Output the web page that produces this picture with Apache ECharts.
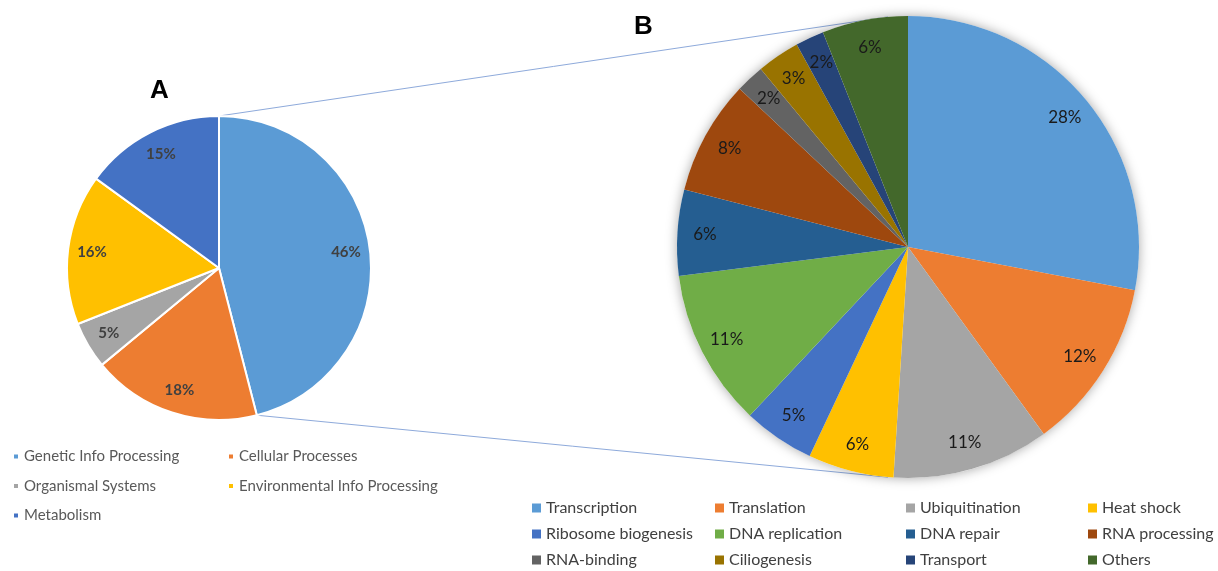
<!DOCTYPE html>
<html>
<head>
<meta charset="utf-8">
<title>Functional categories</title>
<script src="https://cdn.jsdelivr.net/npm/echarts@6/dist/echarts.min.js"></script>
<style>
  html, body { margin: 0; padding: 0; background: #ffffff; }
  #chart { width: 1218px; height: 571px; }
</style>
</head>
<body>
<div id="chart"></div>
<script>
// Panel A: broad functional classes (percent of total)
const categoriesA = ['Genetic Info Processing', 'Cellular Processes', 'Organismal Systems', 'Environmental Info Processing', 'Metabolism'];
const valuesA = [46, 18, 5, 16, 15];
const colorsA = ['#5B9BD5', '#ED7D31', '#A5A5A5', '#FFC000', '#4472C4'];

// Panel B: breakdown of Genetic Info Processing (percent)
const categoriesB = ['Transcription', 'Translation', 'Ubiquitination', 'Heat shock', 'Ribosome biogenesis', 'DNA replication', 'DNA repair', 'RNA processing', 'RNA-binding', 'Ciliogenesis', 'Transport', 'Others'];
const valuesB = [28, 12, 11, 6, 5, 11, 6, 8, 2, 3, 2, 6];
const colorsB = ['#5B9BD5', '#ED7D31', '#A5A5A5', '#FFC000', '#4472C4', '#70AD47', '#255E91', '#9E480E', '#636363', '#997300', '#264478', '#43682B'];

// Legend columns
const legendColsA = [
  ['Genetic Info Processing', 'Organismal Systems', 'Metabolism'],
  ['Cellular Processes', 'Environmental Info Processing']
];
const legendColsB = [
  ['Transcription', 'Ribosome biogenesis', 'RNA-binding'],
  ['Translation', 'DNA replication', 'Ciliogenesis'],
  ['Ubiquitination', 'DNA repair', 'Transport'],
  ['Heat shock', 'RNA processing', 'Others']
];

// Layout
const pieA = { cx: 219, cy: 268, r: 152, labelR0: 98 };
const pieB = { cx: 908, cy: 247, r: 231, labelR0: 170 };
const legendLeftA = [12, 227];
const legendLeftB = [532, 715, 906, 1088];

const dataA = categoriesA.map((n, i) => ({ name: n, value: valuesA[i], itemStyle: { color: colorsA[i] } }));
const dataB = categoriesB.map((n, i) => ({ name: n, value: valuesB[i], itemStyle: { color: colorsB[i] } }));

// Connector lines from the exploded slice of A to pie B
const totalA = valuesA.reduce((a, b) => a + b, 0);
const endAngle = valuesA[0] / totalA * 2 * Math.PI;
const ptA = (ang) => [pieA.cx + pieA.r * Math.sin(ang), pieA.cy - pieA.r * Math.cos(ang)];
const ptB = (ang) => [pieB.cx + pieB.r * Math.sin(ang), pieB.cy - pieB.r * Math.cos(ang)];
const off = 5 * Math.PI / 180;
const aTop = ptA(0), aEnd = ptA(endAngle);
const bTop = ptB(-off), bBot = ptB(Math.PI + off);

const legends = [];
legendColsA.forEach((col, i) => legends.push({
  orient: 'vertical', left: legendLeftA[i], top: 448, padding: 0, itemGap: 12.5,
  itemWidth: 6, itemHeight: 6, icon: 'rect', selectedMode: false,
  textStyle: { fontFamily: 'Lato', fontSize: 15, color: '#595959', lineHeight: 17 },
  data: col
}));
legendColsB.forEach((col, i) => legends.push({
  orient: 'vertical', left: legendLeftB[i], top: 500, padding: 0, itemGap: 10,
  itemWidth: 9, itemHeight: 9, icon: 'rect', selectedMode: false,
  textStyle: { fontFamily: 'Lato', fontSize: 16, color: '#404040', lineHeight: 16 },
  data: col
}));

const chart = echarts.init(document.getElementById('chart'), null, { renderer: 'canvas' });
chart.setOption({
  animation: false,
  backgroundColor: '#ffffff',
  legend: legends,
  graphic: [
    { type: 'line', z: 1, shape: { x1: aTop[0], y1: aTop[1], x2: bTop[0], y2: bTop[1] }, style: { stroke: '#8EAADB', lineWidth: 1 } },
    { type: 'line', z: 1, shape: { x1: aEnd[0], y1: aEnd[1], x2: bBot[0], y2: bBot[1] }, style: { stroke: '#8EAADB', lineWidth: 1 } },
    { type: 'text', left: 150, top: 78, style: { text: 'A', font: 'bold 26px Arial', fill: '#000000' } },
    { type: 'text', left: 634, top: 14, style: { text: 'B', font: 'bold 26px Arial', fill: '#000000' } }
  ],
  series: [
    // soft halo behind pie B
    {
      type: 'pie', silent: true, center: [pieB.cx, pieB.cy], radius: pieB.r, z: 1,
      label: { show: false }, labelLine: { show: false },
      itemStyle: { color: '#ffffff', shadowBlur: 12, shadowColor: 'rgba(0,0,0,0.35)' },
      data: [{ value: 1, name: '' }]
    },
    {
      type: 'pie', center: [pieA.cx, pieA.cy], radius: pieA.r, startAngle: 90, clockwise: true, z: 2,
      silent: true, label: { show: false }, labelLine: { show: false },
      itemStyle: { borderColor: '#ffffff', borderWidth: 2 },
      data: dataA
    },
    {
      type: 'pie', center: [pieB.cx, pieB.cy], radius: pieB.r, startAngle: 90, clockwise: true, z: 2,
      silent: true, label: { show: false }, labelLine: { show: false },
      data: dataB
    },
    // value labels, placed on a ring inside each pie
    {
      type: 'pie', center: [pieA.cx, pieA.cy], radius: [pieA.labelR0, pieA.r], startAngle: 90, clockwise: true, z: 3,
      silent: true, itemStyle: { color: 'rgba(0,0,0,0)' },
      label: { show: true, position: 'inside', formatter: (p) => p.value + '%', fontFamily: 'Lato', fontWeight: 'bold', fontSize: 15, color: '#404040' },
      labelLine: { show: false },
      data: categoriesA.map((n, i) => ({ name: n, value: valuesA[i] }))
    },
    {
      type: 'pie', center: [pieB.cx, pieB.cy], radius: [pieB.labelR0, pieB.r], startAngle: 90, clockwise: true, z: 3,
      silent: true, itemStyle: { color: 'rgba(0,0,0,0)' },
      label: { show: true, position: 'inside', formatter: (p) => p.value + '%', fontFamily: 'Lato', fontSize: 17, color: '#1a1a1a' },
      labelLine: { show: false },
      data: categoriesB.map((n, i) => ({ name: n, value: valuesB[i] }))
    }
  ]
});
</script>
</body>
</html>
